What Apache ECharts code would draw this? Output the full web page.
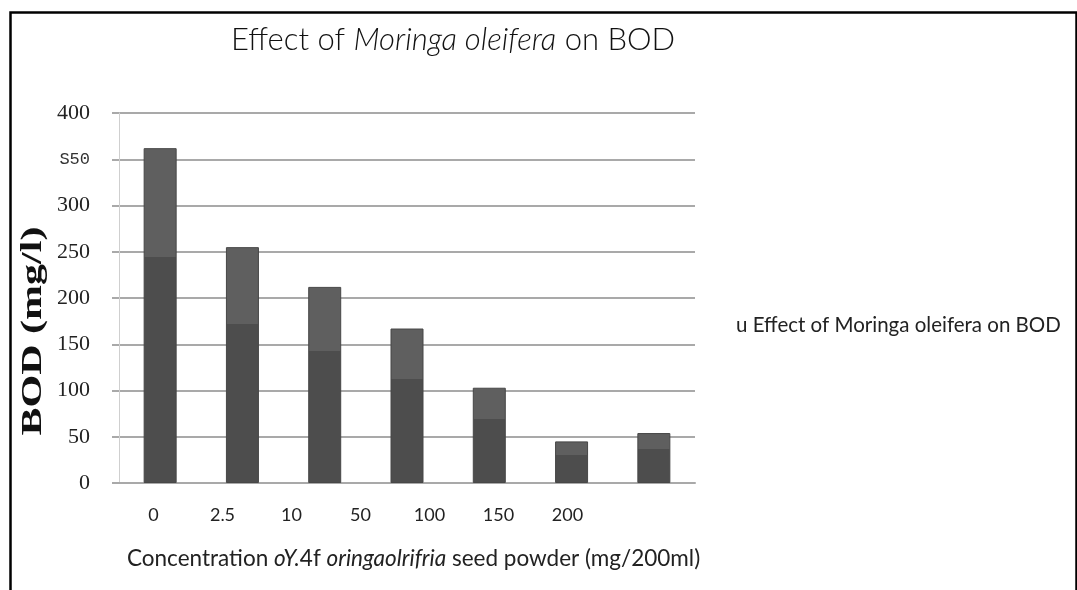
<!DOCTYPE html>
<html>
<head>
<meta charset="utf-8">
<script src="https://cdn.jsdelivr.net/npm/echarts@6/dist/echarts.min.js"></script>
<style>
html,body{margin:0;padding:0;background:#fff;}
#chart{width:1077px;height:590px;}
</style>
</head>
<body>
<div id="chart"></div>
<script>
// ---- data ----
var categories = ['0', '2.5', '10', '50', '100', '150', '200'];
var xTickLabels = ['0', '2.5', '10', '50', '100', '150', '200'];
var bodValues = [362, 255, 212, 167, 103, 45, 54];
var yTickValues = [0, 50, 100, 150, 200, 250, 300, 350, 400];
var yTickLabels = ['0', '50', '100', '150', '200', '250', '300', 'S50', '400'];
var seriesName = 'Effect of Moringa oleifera on BOD';

var chart = echarts.init(document.getElementById('chart'));
var gridColor = '#a9a9a9';
var barFill = {
  type: 'linear', x: 0, y: 0, x2: 0, y2: 1,
  colorStops: [
    {offset: 0, color: '#5f5f5f'},
    {offset: 0.325, color: '#5f5f5f'},
    {offset: 0.325, color: '#4d4d4d'},
    {offset: 1, color: '#4d4d4d'}
  ]
};

var option = {
  backgroundColor: '#fff',
  animation: false,
  title: {
    left: 226, top: 19,
    text: '{a|Effect of }{i|Moringa oleifera}{a| on BOD}',
    textStyle: {
      rich: {
        a: {fontFamily: 'Lato', fontSize: 31, fontWeight: 300, color: '#111'},
        i: {fontFamily: 'Lato', fontSize: 31, fontWeight: 300, fontStyle: 'italic', color: '#111'}
      }
    }
  },
  legend: {
    left: 726, top: 310,
    icon: 'none', itemWidth: 0,
    data: [seriesName],
    formatter: function (n) { return 'u ' + n; },
    textStyle: {fontFamily: 'Lato', fontSize: 20.5, color: '#222'}
  },
  grid: [
    {left: 119, right: 382, top: 113, bottom: 107},
    {left: 119, width: 483, top: 113, bottom: 107}
  ],
  xAxis: [
    {
      type: 'category', gridIndex: 0, data: categories,
      axisLine: {show: true, lineStyle: {color: gridColor, width: 2}},
      axisTick: {show: false},
      axisLabel: {show: false}
    },
    {
      type: 'category', gridIndex: 1, data: xTickLabels,
      axisLine: {show: false}, axisTick: {show: false},
      axisLabel: {show: true, margin: 23, fontFamily: 'Lato', fontSize: 18, color: '#222'},
      name: '{r|Concentration }{i|oY.}{r|4f }{i|oringaolrifria}{r| seed powder (mg/200ml)}',
      nameLocation: 'start', nameGap: 0,
      nameTextStyle: {
        align: 'left', verticalAlign: 'top', padding: [64, 0, 0, 8],
        rich: {
          r: {fontFamily: 'Lato', fontSize: 22.5, color: '#222'},
          i: {fontFamily: 'Lato', fontSize: 22.5, fontStyle: 'italic', color: '#222'}
        }
      }
    }
  ],
  yAxis: [
    {
      type: 'value', gridIndex: 0, min: 0, max: 400, interval: 50,
      axisLine: {show: true, lineStyle: {color: '#cfcfcf', width: 1}},
      axisTick: {show: true, length: 7, lineStyle: {color: gridColor, width: 2}},
      splitLine: {show: true, lineStyle: {color: gridColor, width: 2}},
      axisLabel: {
        margin: 29,
        formatter: function (v) {
          var i = yTickValues.indexOf(v);
          var t = i >= 0 ? yTickLabels[i] : String(v);
          return t === 'S50' ? '{s|' + t + '}' : '{n|' + t + '}';
        },
        rich: {
          n: {fontFamily: 'Liberation Serif', fontSize: 22, color: '#222'},
          s: {fontFamily: 'Liberation Mono', fontSize: 17, color: '#333'}
        }
      }
    },
    {type: 'value', gridIndex: 1, show: false, min: 0, max: 400}
  ],
  series: [{
    name: seriesName,
    type: 'bar',
    xAxisIndex: 0, yAxisIndex: 0,
    barWidth: 33,
    data: bodValues,
    itemStyle: {color: barFill, borderColor: '#474747', borderWidth: 1}
  }],
  graphic: [
    {
      type: 'rect', left: 8, top: 10, silent: true,
      shape: {width: 1066, height: 620},
      style: {fill: 'none', stroke: '#000', lineWidth: 2.5}
    },
    {
      type: 'text', x: 33, y: 331, rotation: Math.PI / 2, scaleX: 1.4, silent: true,
      style: {
        text: 'BOD (mg/l)', fontFamily: 'Liberation Serif', fontWeight: 'bold',
        fontSize: 30, fill: '#111', align: 'center', verticalAlign: 'middle'
      }
    }
  ]
};
chart.setOption(option);
</script>
</body>
</html>
